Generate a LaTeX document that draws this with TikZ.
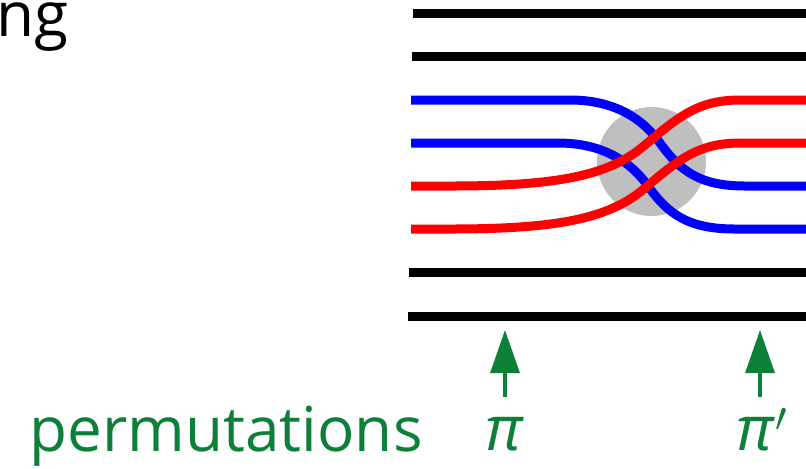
\documentclass[tikz,border=0pt]{standalone}
\usepackage{fontspec}
\setmainfont{Open Sans}
\usetikzlibrary{arrows.meta}
\definecolor{permgreen}{RGB}{12,128,56}
\tikzset{
    wire/.style={line width=4.5pt},
    blob/.style={circle,fill=gray!50,minimum size=54.5pt,inner sep=0pt},
    bigtext/.style={font=\fontsize{31}{37}\selectfont,inner sep=0pt},
    permlabel/.style={bigtext,text=permgreen,text height=15.5pt,text depth=0pt,anchor=base},
    permarrow/.style={-{Triangle[length=21.5pt,width=14.5pt]},line width=1.6pt,draw=permgreen,shorten <=11pt}
}

\begin{document}
\begin{tikzpicture}[x=0.5pt,y=-0.5pt]
    \useasboundingbox (0,0) rectangle (806,468);
    \clip (0,0) rectangle (806,468);
    % cut-off word at the top left
    \node[bigtext,anchor=base east] (word) at (69,36) {ng};
    % straight wires
    \foreach \y/\x in {13/413,56/412,272/409,316/408}
        \draw[wire] (\x,\y) -- (812,\y);
    % the gate
    \node[blob] (gate) at (651.5,161.5) {};
    % blue wires go down
    \draw[wire,blue] (411,100) -- (570,100) .. controls (610,100) and (640,115) .. (660,143)
        .. controls (680,171) and (700,186) .. (745,186) -- (812,186);
    \draw[wire,blue] (411,143) -- (558,143) .. controls (598,143) and (628,158) .. (648,186)
        .. controls (668,214) and (688,229) .. (735,229) -- (812,229);
    % red wires go up
    \draw[wire,red] (411,186) -- (450,186) .. controls (560,186) and (610,175) .. (645,145)
        .. controls (680,115) and (700,100) .. (740,100) -- (812,100);
    \draw[wire,red] (411,229) -- (450,229) .. controls (560,229) and (610,218) .. (645,188)
        .. controls (680,158) and (700,143) .. (740,143) -- (812,143);
    % permutations
    \node[bigtext,text=permgreen,anchor=base east] (perms) at (423,451) {permutations};
    \node[permlabel] (pi) at (505,450) {\textit{π}};
    \node[permlabel] (pip) at (762,450) {\textit{π}$'$};
    \coordinate (pitip) at (505,330);
    \coordinate (piptip) at (760,330);
    \draw[permarrow] (pi.north) -- (pitip);
    \draw[permarrow] (pip.north -| piptip) -- (piptip);
\end{tikzpicture}
\end{document}
